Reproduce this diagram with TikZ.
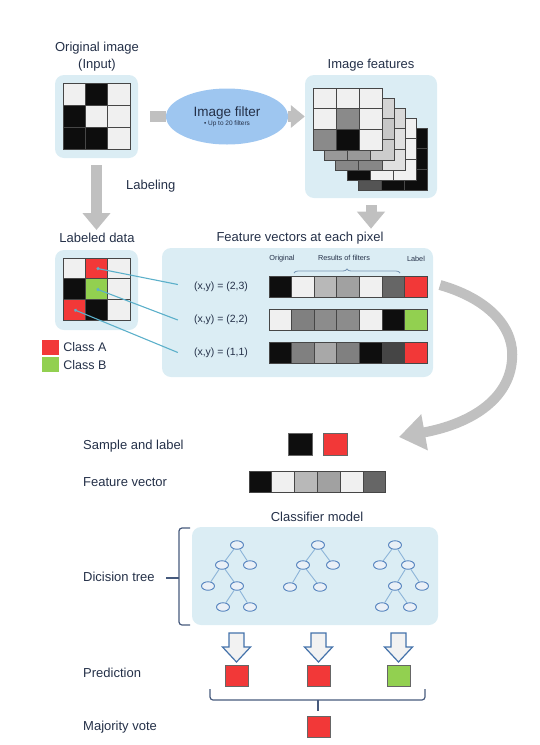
\documentclass[tikz,border=0pt]{standalone}
\usepackage{fontspec}
\setmainfont{Liberation Sans}
\usetikzlibrary{positioning,calc,arrows.meta,shapes.geometric,decorations.pathreplacing}

\definecolor{txt}{RGB}{36,48,72}
\definecolor{panelc}{RGB}{219,237,244}
\definecolor{arrowg}{RGB}{192,192,192}
\definecolor{filtc}{RGB}{158,198,240}
\definecolor{cw}{RGB}{240,240,240}
\definecolor{ck}{RGB}{14,14,14}
\definecolor{cr}{RGB}{242,56,56}
\definecolor{cg}{RGB}{146,208,80}
\definecolor{cellb}{RGB}{70,70,70}
\definecolor{linkc}{RGB}{92,176,202}
\definecolor{treeb}{RGB}{84,130,190}
\definecolor{treef}{RGB}{234,240,247}
\definecolor{treel}{RGB}{140,180,216}
\definecolor{hollowb}{RGB}{68,114,170}
\definecolor{hollowf}{RGB}{242,242,242}
\definecolor{bracec}{RGB}{70,90,125}
\definecolor{hdrbr}{RGB}{120,150,180}

\begin{document}
\begin{tikzpicture}[x=1pt,y=-1pt,
  panel/.style={fill=panelc,rounded corners=9pt,inner sep=0pt},
  cell/.style={draw=cellb,line width=0.7pt,minimum width=22.3pt,minimum height=22pt,inner sep=0pt},
  ttl/.style={text=txt,font=\fontsize{13}{17}\selectfont,inner sep=1pt},
  side/.style={ttl,anchor=west,inner sep=0pt},
  hdr/.style={text=txt,font=\fontsize{7.3}{9}\selectfont,inner sep=1pt},
  xy/.style={text=txt,font=\fontsize{10.5}{12}\selectfont,inner sep=1pt},
  grey/.style={draw=arrowg,line width=11pt},
  greyarr/.style={grey,-{Triangle[width=27pt,length=17pt]}},
  link/.style={draw=linkc,line width=1.1pt,{Circle[length=3pt]}-},
  tnode/.style={ellipse,draw=treeb,fill=treef,line width=0.9pt,minimum width=13pt,minimum height=8.5pt,inner sep=0pt},
  tedge/.style={draw=treel,line width=0.9pt},
  hollow/.style={draw=hollowb,fill=hollowf,line width=1.2pt,line join=miter},
  sq/.style={draw=black!60,line width=0.6pt,minimum width=23pt,minimum height=21pt,inner sep=0pt},
  brc/.style={draw=bracec,line width=1.2pt,rounded corners=3pt}]

\useasboundingbox (0,0) rectangle (540,745);

% original image
\node[ttl,align=center] (origtitle) at (97,57) {Original image\\(Input)};
\node[panel,minimum width=83pt,minimum height=83pt] (orig) at (96.5,116.5) {};
\foreach \v [count=\k from 0] in {94,5,94,5,94,94,5,5,94}{
  \pgfmathtruncatemacro\gr{\k/3}
  \pgfmathtruncatemacro\gc{mod(\k,3)}
  \node[cell,fill=white!\v!black] (o-\gr-\gc) at ({74.2+22.3*\gc},{94+22*\gr}) {};
}

% image filter
\node[ellipse,fill=filtc,minimum width=122pt,minimum height=56pt,inner sep=0pt,text=txt,align=center] (filt) at (227,116.5)
  {{\fontsize{13.5}{15}\selectfont Image filter}\\[-3pt]{\fontsize{6.5}{7}\selectfont • Up to 20 filters}};
\draw[grey] ([xshift=12pt]orig.east) -- (filt.west);

% image features
\node[ttl] (feattitle) at (371,65) {Image features};
\node[panel,minimum width=132pt,minimum height=123pt] (feat) at (371,136.5) {};
\foreach \L/\vals in {4/{5,5,5,5,5,5,33,5,5},3/{94,94,94,94,50,94,5,94,94},2/{88,88,85,88,70,88,53,53,88},1/{83,83,83,83,63,78,60,60,80},0/{94,94,94,94,54,94,54,5,94}}{
  \foreach \v [count=\k from 0] in \vals{
    \pgfmathtruncatemacro\gr{\k/3}
    \pgfmathtruncatemacro\gc{mod(\k,3)}
    \node[cell,minimum width=23.2pt,minimum height=20.7pt,fill=white!\v!black] (f\L-\gr-\gc) at ({324.7+23.2*\gc+11.25*\L},{98.4+20.7*\gr+10*\L}) {};
  }
}
\draw[grey,-{Triangle[width=22pt,length=14pt]}] (filt.east) -- (filt.east -| feat.west);

% labeled data
\node[ttl] (ldtitle) at (97,238) {Labeled data};
\node[panel,minimum width=83pt,minimum height=80pt] (ld) at (96.5,290) {};
\foreach \v [count=\k from 0] in {cw,cr,cw,ck,cg,cw,cr,ck,cw}{
  \pgfmathtruncatemacro\gr{\k/3}
  \pgfmathtruncatemacro\gc{mod(\k,3)}
  \node[cell,minimum height=20.7pt,fill=\v] (l-\gr-\gc) at ({74.2+22.3*\gc},{268.3+20.7*\gr}) {};
}
\draw[greyarr] ([yshift=-7pt]orig.south) -- ([yshift=2pt]orig.south |- ldtitle.north);
\node[ttl,anchor=west] (labeling) at (125,186) {Labeling};

\node[fill=cr,minimum width=17pt,minimum height=15pt,inner sep=0pt] (legA) at (50,347.5) {};
\node[fill=cg,minimum width=17pt,minimum height=15pt,inner sep=0pt,below=2pt of legA] (legB) {};
\node[side,font=\fontsize{12.5}{14}\selectfont,right=4.5pt of legA] (clsA) {Class A};
\node[side,font=\fontsize{12.5}{14}\selectfont,right=4.5pt of legB] (clsB) {Class B};

% feature vectors
\node[ttl] (fvtitle) at (300,238) {Feature vectors at each pixel};
\node[panel,minimum width=271pt,minimum height=129pt] (fv) at (297.5,312.5) {};
\draw[greyarr] ([yshift=-7pt]feat.south) -- ([yshift=2pt]feat.south |- fvtitle.north);
\node[hdr] (horig) at (282,259) {Original};
\node[hdr] (hres) at (344,258) {Results of filters};
\node[hdr] (hlab) at (416,259) {Label};
\draw[draw=hdrbr,line width=0.8pt,decorate,decoration={brace,amplitude=4pt}] (294,273) -- (400,273);

\foreach \n/\y/\txt/\vals in {1/286.5/{(x,y) = (2,3)}/{ck,cw,white!72!black,white!63!black,cw,white!40!black,cr},
                              2/320/{(x,y) = (2,2)}/{cw,white!50!black,white!55!black,white!55!black,cw,ck,cg},
                              3/352.5/{(x,y) = (1,1)}/{ck,white!50!black,white!66!black,white!50!black,ck,white!27!black,cr}}{
  \node[xy] (xy\n) at (221,\y) {\txt};
  \foreach \v [count=\k from 0] in \vals{
    \node[cell,minimum width=22.6pt,minimum height=21pt,fill=\v] (v\n-\k) at ({280.3+22.6*\k},\y) {};
  }
}
\draw[link] (l-0-1.center) -- ([xshift=-15pt,yshift=2pt]xy1.west);
\draw[link] (l-1-1.center) -- ([xshift=-15pt]xy2.west);
\draw[link] (l-2-0.center) -- ([xshift=-15pt]xy3.west);

% curved arrow down to the sample
\coordinate (cv-start) at (440,285);
\coordinate (cv-end) at (399,437);
\draw[draw=arrowg,line width=10pt,-{Triangle[width=35pt,length=26pt]}] (cv-start) .. controls (492,300) and (515,330) .. (512,360) .. controls (509,400) and (470,424) .. (cv-end);

% sample and feature vector
\node[side] (samp) at (83,446) {Sample and label};
\node[sq,minimum width=24pt,minimum height=22pt,fill=ck] (sK) at (300,444) {};
\node[sq,minimum width=24pt,minimum height=22pt,fill=cr] (sR) at (335,444) {};
\node[side] (fvec) at (83,482) {Feature vector};
\foreach \v [count=\k from 0] in {ck,cw,white!72!black,white!63!black,cw,white!40!black}{
  \node[cell,minimum width=22.8pt,minimum height=21pt,fill=\v] (b-\k) at ({260.4+22.8*\k},481.5) {};
}

% classifier model
\node[ttl] (cltitle) at (317,517) {Classifier model};
\node[panel,minimum width=246pt,minimum height=98pt] (clf) at (315,576) {};
\foreach \n/\p in {t1r/{237,545},t1a/{222,565},t1b/{250,565},t1c/{208,586},t1d/{237,586},t1e/{223,607},t1f/{250,607},
                   t2r/{318,545},t2a/{303,565},t2b/{333,565},t2c/{290,587},t2d/{320,587},
                   t3r/{395,545},t3a/{380,565},t3b/{408,565},t3c/{395,586},t3d/{422,586},t3e/{382,607},t3f/{410,607}}
  \node[tnode] (\n) at (\p) {};
\foreach \a/\b in {t1r/t1a,t1r/t1b,t1a/t1c,t1a/t1d,t1d/t1e,t1d/t1f,
                   t2r/t2a,t2r/t2b,t2a/t2c,t2a/t2d,
                   t3r/t3a,t3r/t3b,t3b/t3c,t3b/t3d,t3c/t3e,t3c/t3f}
  \draw[tedge] (\a) -- (\b);
\node[side] (dtree) at (83,577) {Dicision tree};
\draw[brc] (190,528) -- (179,528) -- (179,625) -- (190,625);
\draw[brc] (179,578) -- (166,578);

% prediction and vote
\node[side] (pred) at (83,673) {Prediction};
\foreach \n/\x/\c in {1/236.5/cr,2/318.5/cr,3/398.5/cg}{
  \draw[hollow] (\x-7.5,633) -- (\x+7.5,633) -- (\x+7.5,647) -- (\x+14,647) -- (\x,662) -- (\x-14,647) -- (\x-7.5,647) -- cycle;
  \node[sq,fill=\c] (p\n) at (\x,675.5) {};
}
\draw[brc] (210,689) -- (210,700) -- (425,700) -- (425,689);
\draw[brc] (318,700) -- (318,711);
\node[side] (vote) at (83,727) {Majority vote};
\node[sq,fill=cr] (pv) at (318.5,727) {};
\end{tikzpicture}
\end{document}
